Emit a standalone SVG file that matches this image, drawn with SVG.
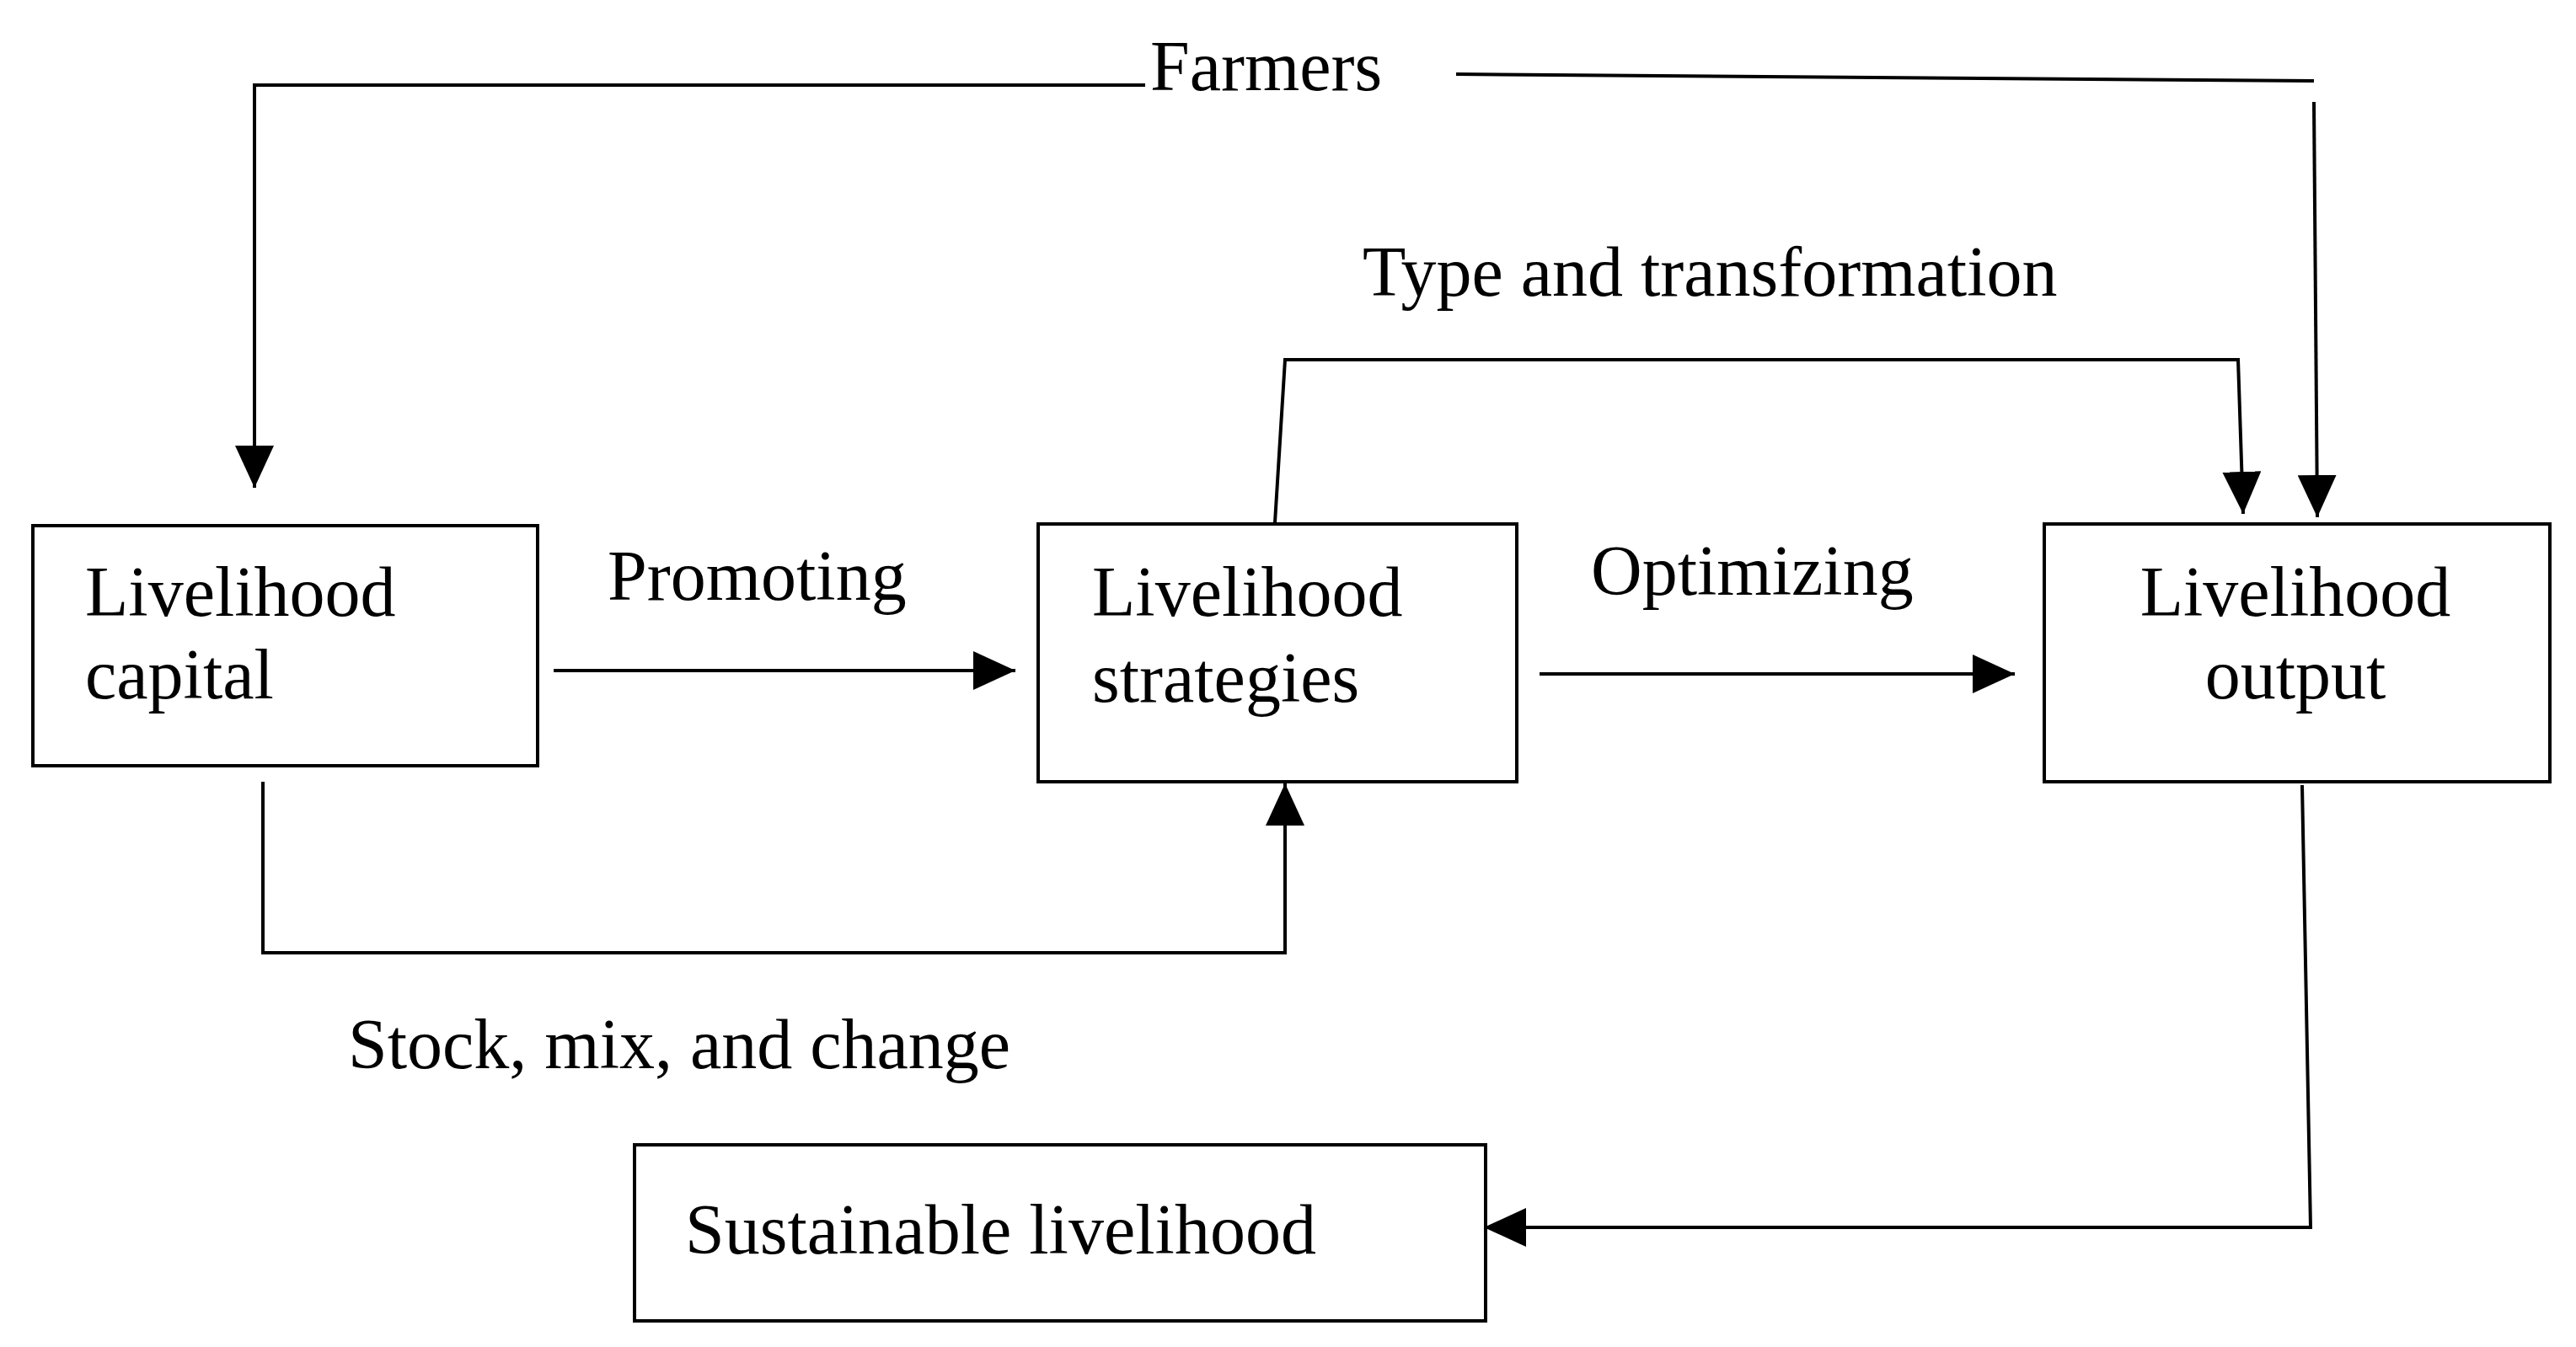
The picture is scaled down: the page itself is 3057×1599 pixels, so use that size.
<svg xmlns="http://www.w3.org/2000/svg" width="3057" height="1599" viewBox="0 0 3057 1599">
<style>
.b{fill:#fff;stroke:#000;stroke-width:4}
.t{font-family:"Liberation Serif",serif;font-size:84px;fill:#000}
.c{fill:none;stroke:#000;stroke-width:4}
</style>
<defs><marker id="a" markerUnits="userSpaceOnUse" markerWidth="52" markerHeight="46" refX="50" refY="23" orient="auto"><path d="M0,0L50,23L0,46Z"/></marker></defs>
<rect width="3057" height="1599" fill="#fff"/>
<g id="connectors">
<polyline class="c" points="1359,101 302,101 302,579" marker-end="url(#a)"/>
<line class="c" x1="1728" y1="88" x2="2746" y2="96"/>
<line class="c" x1="2746" y1="121" x2="2750" y2="614" marker-end="url(#a)"/>
<polyline class="c" points="1513,620 1525,427 2656,427 2662,610" marker-end="url(#a)"/>
<line class="c" x1="657" y1="796" x2="1205" y2="796" marker-end="url(#a)"/>
<line class="c" x1="1827" y1="800" x2="2391" y2="800" marker-end="url(#a)"/>
<polyline class="c" points="312,928 312,1131 1525,1131 1525,930" marker-end="url(#a)"/>
<polyline class="c" points="2732,932 2742,1457 1761,1457" marker-end="url(#a)"/>
<text class="t" x="1365" y="107">Farmers</text>
<text class="t" x="1617" y="351">Type and transformation</text>
<text class="t" x="721" y="712">Promoting</text>
<text class="t" x="1888" y="706">Optimizing</text>
<text class="t" x="413" y="1268">Stock, mix, and change</text>
</g>
<g id="capital"><rect class="b" x="39" y="624" width="599" height="285"/><text class="t" x="101" y="731">Livelihood</text><text class="t" x="101" y="829">capital</text></g>
<g id="strategies"><rect class="b" x="1232" y="622" width="568" height="306"/><text class="t" x="1296" y="731">Livelihood</text><text class="t" x="1296" y="833">strategies</text></g>
<g id="output"><rect class="b" x="2426" y="622" width="600" height="306"/><text class="t" x="2724" y="731" text-anchor="middle">Livelihood</text><text class="t" x="2724" y="829" text-anchor="middle">output</text></g>
<g id="sustainable"><rect class="b" x="753" y="1359" width="1010" height="209"/><text class="t" x="813" y="1488">Sustainable livelihood</text></g>
</svg>
